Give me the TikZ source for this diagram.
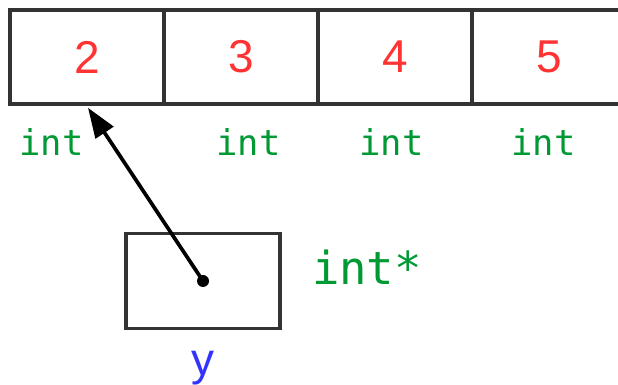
\documentclass[tikz,border=0pt]{standalone}
\usepackage{fontspec}
\setmainfont{Liberation Sans}
\newfontfamily\monof{DejaVu Sans Mono}
\usetikzlibrary{arrows.meta}
\definecolor{cellgray}{HTML}{333333}
\definecolor{numred}{HTML}{FF3333}
\definecolor{typegreen}{HTML}{009933}
\definecolor{varblue}{HTML}{3333FF}
\tikzset{
  cell/.style={draw=cellgray, line width=3.5pt, minimum width=154pt, minimum height=94pt, inner sep=0pt, font=\fontsize{46}{46}\selectfont, text=numred},
  typelbl/.style={font=\monof\fontsize{35.5}{35.5}\selectfont, text=typegreen, inner sep=0pt, anchor=base},
  ptr/.style={line width=3.7pt, -{Triangle[length=30pt,width=21pt]}}
}
\begin{document}
\begin{tikzpicture}[x=1pt,y=1pt]
\clip (0,0) rectangle (618,385);
\useasboundingbox (0,0) rectangle (618,385);
\node[cell] (c1) at (87,328) {2};
\node[cell] (c2) at (241,328) {3};
\node[cell] (c3) at (395,328) {4};
\node[cell] (c4) at (549,328) {5};
\node[typelbl] (t1) at (51.5,229) {int};
\node[typelbl] (t2) at (248.5,229) {int};
\node[typelbl] (t3) at (391.5,229) {int};
\node[typelbl] (t4) at (543.5,229) {int};
\node[draw=cellgray, line width=3.5pt, minimum width=154pt, minimum height=95pt, inner sep=0pt] (yb) at (203,104) {};
\node[font=\monof\fontsize{45.5}{45.5}\selectfont, text=typegreen, inner sep=0pt, anchor=base west] (tp) at (312,100) {int*};
\node[font=\fontsize{46}{46}\selectfont, text=varblue, inner sep=0pt, anchor=base] (yl) at (202.5,9) {y};
\coordinate (dot) at (203,104);
\fill (dot) circle (6pt);
\coordinate (tip) at ([xshift=1pt,yshift=-2pt]c1.south);
\draw[ptr] (dot) -- (tip);
\end{tikzpicture}
\end{document}
